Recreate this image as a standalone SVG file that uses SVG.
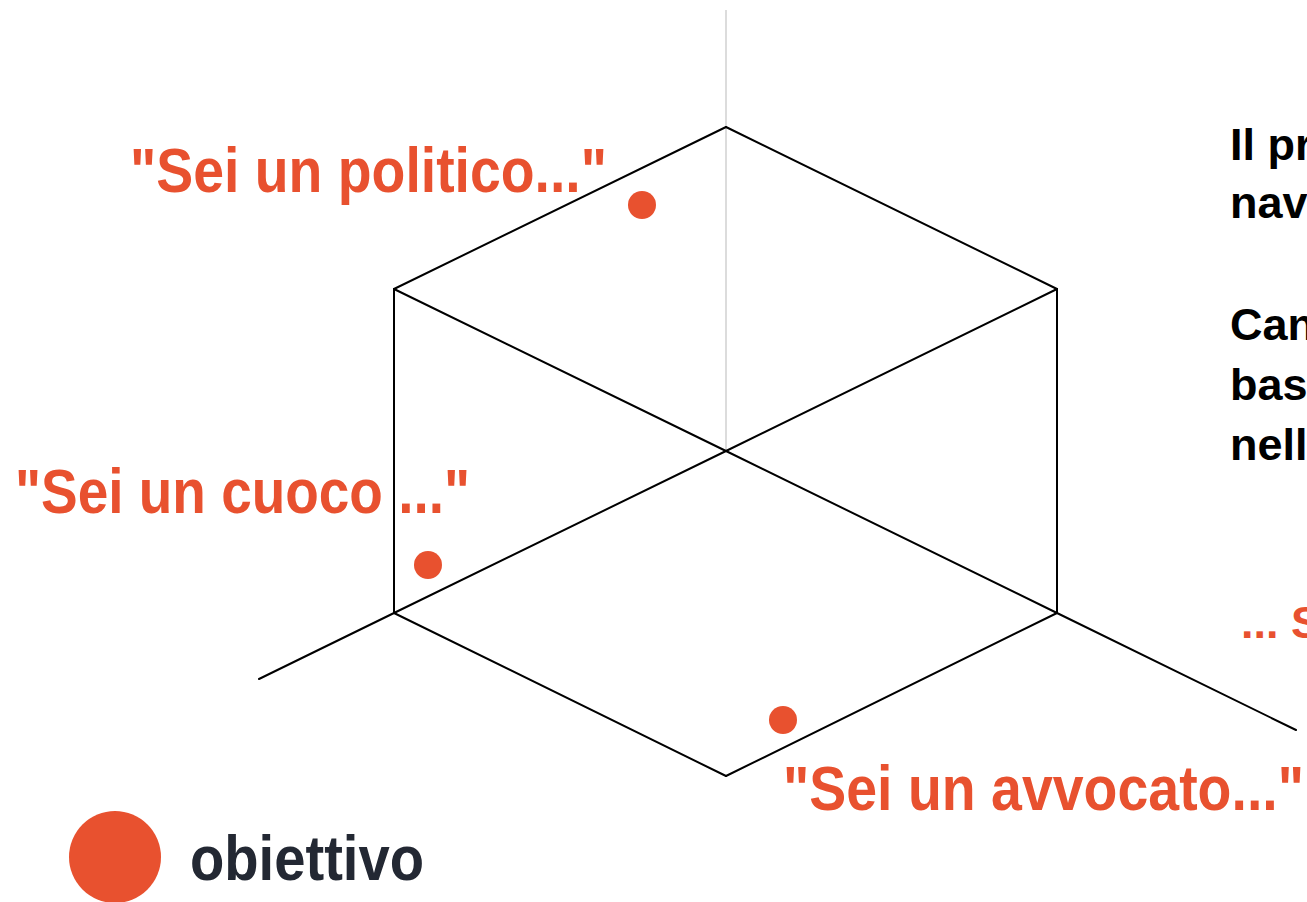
<svg xmlns="http://www.w3.org/2000/svg" width="1307" height="902" viewBox="0 0 1307 902">
<style>
.edge{stroke:#000;stroke-width:2;fill:none;stroke-linecap:round}
.axis{stroke:#dcdcdc;stroke-width:2;fill:none}
.lbl{font-family:"Liberation Sans",Arial,sans-serif;font-weight:bold;fill:#E8512F}
.txt{font-family:"Liberation Sans",Arial,sans-serif;font-weight:bold;fill:#000;font-size:45px}
.dot{fill:#E8512F}
</style>
<rect width="1307" height="902" fill="#fff"/>
<g id="connectors">
<line class="axis" x1="726" y1="10" x2="726" y2="451"/>
<line class="edge" x1="726" y1="127" x2="394" y2="289"/>
<line class="edge" x1="726" y1="127" x2="1057" y2="289"/>
<line class="edge" x1="394" y1="289" x2="726" y2="451"/>
<line class="edge" x1="1057" y1="289" x2="726" y2="451"/>
<line class="edge" x1="394" y1="289" x2="394" y2="613"/>
<line class="edge" x1="1057" y1="289" x2="1057" y2="613"/>
<line class="edge" x1="726" y1="451" x2="394" y2="613"/>
<line class="edge" x1="726" y1="451" x2="1057" y2="613"/>
<line class="edge" x1="394" y1="613" x2="726" y2="776"/>
<line class="edge" x1="1057" y1="613" x2="726" y2="776"/>
<line class="edge" x1="394" y1="613" x2="259" y2="679"/>
<line class="edge" x1="1057" y1="613" x2="1296" y2="730"/>
</g>
<g id="politico">
<text class="lbl" x="130" y="192" font-size="63" textLength="477" lengthAdjust="spacingAndGlyphs">"Sei un politico..."</text>
<circle class="dot" cx="642" cy="205" r="14"/>
</g>
<g id="cuoco">
<text class="lbl" x="15" y="513" font-size="63" textLength="455" lengthAdjust="spacingAndGlyphs">"Sei un cuoco ..."</text>
<circle class="dot" cx="428" cy="565" r="14"/>
</g>
<g id="avvocato">
<text class="lbl" x="783" y="810" font-size="63" textLength="521" lengthAdjust="spacingAndGlyphs">"Sei un avvocato..."</text>
<circle class="dot" cx="783" cy="720" r="14"/>
</g>
<g id="legend">
<circle class="dot" cx="115" cy="857" r="46"/>
<text x="190" y="880" font-family="'Liberation Sans',Arial,sans-serif" font-weight="bold" font-size="63" fill="#232833" textLength="234" lengthAdjust="spacingAndGlyphs">obiettivo</text>
</g>
<g id="side-text">
<text class="txt" x="1230" y="160">Il pr</text>
<text class="txt" x="1230" y="218">nav</text>
<text class="txt" x="1230" y="340">Can</text>
<text class="txt" x="1230" y="400">bas</text>
<text class="txt" x="1230" y="460">nell</text>
<text class="lbl" x="1241" y="638" font-size="45">... S</text>
</g>
</svg>
